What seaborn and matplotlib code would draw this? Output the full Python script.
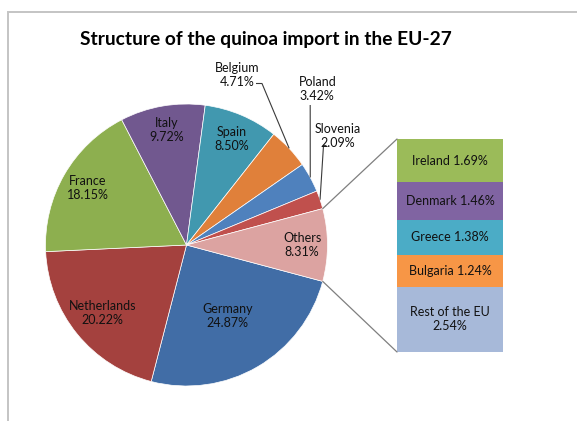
import numpy as np
import matplotlib
matplotlib.use("Agg")
import matplotlib.pyplot as plt
from matplotlib.patches import ConnectionPatch
import seaborn as sns

# ---------------- data ----------------
main_names = ["Germany", "Netherlands", "France", "Italy", "Spain",
              "Belgium", "Poland", "Slovenia"]
main_values = [24.87, 20.22, 18.15, 9.72, 8.50, 4.71, 3.42, 2.09]
sec_names = ["Ireland", "Denmark", "Greece", "Bulgaria", "Rest of the EU"]
sec_values = [1.69, 1.46, 1.38, 1.24, 2.54]
others_name = "Others"
title = "Structure of the quinoa import in the EU-27"

# ---------------- style ----------------
main_colors = ["#416da6", "#a4413e", "#8daf4f", "#71588f", "#4198af",
               "#e0803a", "#4f81bd", "#c0504d"]
others_color = "#dca3a1"
sec_colors = ["#9bbb59", "#8064a2", "#4bacc6", "#f79646", "#a7b9d9"]

sns.set_theme(style="white")
plt.rcParams['font.family'] = ['Lato', 'DejaVu Sans']

W, H = 577, 421
fig = plt.figure(figsize=(W / 100, H / 100), dpi=100)
fig.patch.set_facecolor("white")
ax = fig.add_axes([0, 0, 1, 1])

def Y(y):
    return H - y

cx, cy, R = 186.5, Y(245), 141.0

others_value = round(sum(sec_values), 2)
pie_values = main_values + [others_value]
pie_colors = main_colors + [others_color]
total = sum(pie_values)
others_deg = 360.0 * others_value / total
start = -others_deg / 2.0

wedges, _ = ax.pie(pie_values, colors=pie_colors, startangle=start,
                   counterclock=False, center=(cx, cy), radius=R,
                   wedgeprops=dict(edgecolor="white", linewidth=0.5))
ax.set_xlim(0, W)
ax.set_ylim(0, H)
ax.set_aspect("equal")
ax.axis("off")

# mid angles (degrees, counterclockwise from +x)
cum = np.cumsum([0] + pie_values)
mids = [start - 360.0 * (cum[i] + cum[i + 1]) / 2.0 / total
        for i in range(len(pie_values))]

all_names = main_names + [others_name]
lab_fs = 9
txt_col = "#111111"
inside_r = {"Germany": 0.58, "Netherlands": 0.77, "France": 0.81,
            "Italy": 0.83, "Spain": 0.82, "Others": 0.82}
for i, name in enumerate(all_names):
    if name in inside_r:
        a = np.deg2rad(mids[i])
        r = inside_r[name] * R
        ax.text(cx + r * np.cos(a), cy + r * np.sin(a),
                f"{name}\n{pie_values[i]:.2f}%", ha="center", va="center",
                fontsize=lab_fs, color=txt_col, linespacing=1.2)

# outside labels with leader lines
outside = {
    "Belgium": dict(pos=(236.7, 75), line=[(256, 83.5), (262, 83.5)]),
    "Poland": dict(pos=(317.3, 89), line=[(310.2, 105)]),
    "Slovenia": dict(pos=(338, 136), line=[(326.5, 145.5), (323.5, 145.5)]),
}
for name, d in outside.items():
    i = all_names.index(name)
    x, y = d["pos"]
    ax.text(x, Y(y), f"{name}\n{pie_values[i]:.2f}%", ha="center",
            va="center", fontsize=lab_fs, color=txt_col, linespacing=1.2)
    a = np.deg2rad(mids[i])
    ex, ey = cx + R * np.cos(a), cy + R * np.sin(a)
    pts = [(px, Y(py)) for px, py in d["line"]] + [(ex, ey)]
    xs, ys = zip(*pts)
    ax.plot(xs, ys, color="#3a3a3a", lw=0.8, solid_capstyle="butt")

# title
ax.text(266, Y(39), title, ha="center", va="center", fontsize=13.8,
        fontweight="bold", color="black")

# chart border
ax.plot([7.5, 7.5, W + 2], [Y(H + 2), Y(12), Y(12)], color="#c4c4c4",
        lw=1.4, solid_joinstyle="miter")

# ---------------- secondary bar ----------------
bx0, by0, bw, bh = 397, 139, 106, 213
bax = fig.add_axes([bx0 / W, (H - by0 - bh) / H, bw / W, bh / H])
sec_total = sum(sec_values)
tops = sec_total - np.concatenate([[0], np.cumsum(sec_values)[:-1]])
bottoms = tops - np.array(sec_values)
for n, v, b, c in zip(sec_names, sec_values, bottoms, sec_colors):
    bax.bar(0, v, bottom=b, width=1.0, color=c, linewidth=0)
    label = f"{n} {v:.2f}%" if n != "Rest of the EU" else f"{n}\n{v:.2f}%"
    bax.text(0, b + v / 2.0, label, ha="center", va="center",
             fontsize=lab_fs, color=txt_col, linespacing=1.2)
bax.set_xlim(-0.5, 0.5)
bax.set_ylim(0, sec_total)
bax.axis("off")

# connectors from Others slice to bar
for sgn, yb in [(1, sec_total), (-1, 0)]:
    a = np.deg2rad(sgn * others_deg / 2.0)
    p = (cx + R * np.cos(a), cy + R * np.sin(a))
    con = ConnectionPatch(xyA=p, coordsA=ax.transData, xyB=(-0.5, yb),
                          coordsB=bax.transData, color="#7f7f7f", lw=0.9)
    fig.add_artist(con)

fig.savefig("out.png", dpi=100, facecolor="white")
